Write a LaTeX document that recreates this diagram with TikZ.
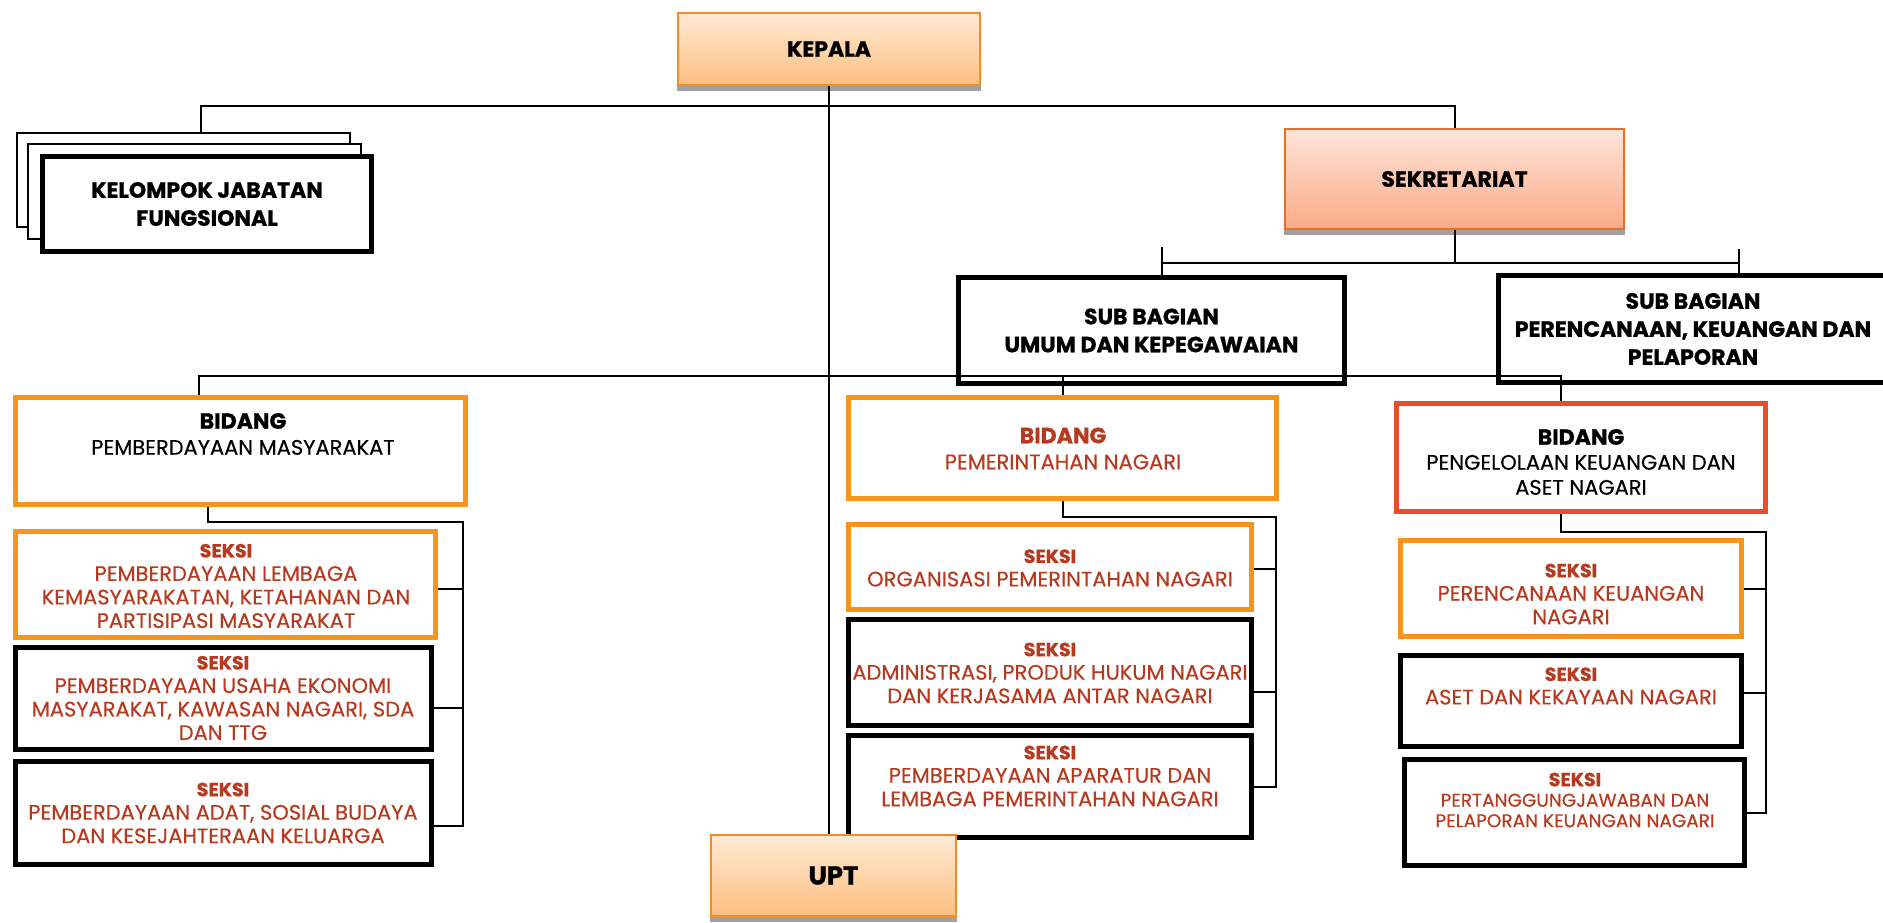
\documentclass[tikz,border=0pt]{standalone}
\usepackage{fontspec}
\setmainfont{Poppins}[UprightFeatures={FakeBold=0.4}, BoldFeatures={FakeBold=1}]
\usetikzlibrary{shadows}
\definecolor{oren}{RGB}{247,148,29}
\definecolor{merah}{RGB}{232,78,42}
\definecolor{teks}{RGB}{183,58,30}
\definecolor{jingga1}{RGB}{255,234,212}
\definecolor{jingga2}{RGB}{253,190,128}
\definecolor{salem1}{RGB}{254,228,218}
\definecolor{salem2}{RGB}{251,170,135}
\definecolor{garisutama}{RGB}{243,139,38}
\definecolor{garissekre}{RGB}{230,110,40}
\definecolor{bayang}{RGB}{160,160,160}
\newcommand{\seksi}{{\fontsize{19}{20}\selectfont\bfseries SEKSI}}

\begin{document}
\begin{tikzpicture}[x=1pt, y=-1pt, line width=2pt,
    hitam/.style={draw=black, line width=5pt},
    oranye/.style={draw=oren, line width=5pt},
    merahbox/.style={draw=merah, line width=5pt},
    tipis/.style={draw=black, line width=2pt, fill=white},
    utama/.style={draw=garisutama, line width=2pt, top color=jingga1, bottom color=jingga2,
        preaction={draw=bayang, fill=bayang, transform canvas={yshift=-5pt}}},
    judul/.style={font=\fontsize{22}{28}\selectfont\bfseries, align=center},
    tulis/.style={inner sep=0, align=center},
    isi/.style={tulis, text=teks, font=\fontsize{21}{23.5}\selectfont}]
    \useasboundingbox (0,0) rectangle (1883,922);

    % kepala dan garis utama
    \node[utama, minimum width=302, minimum height=72, judul] (kepala) at (829,49) {KEPALA};
    \coordinate (bawah) at (829,922);
    \draw (kepala.south) -- (bawah);

    % kelompok jabatan fungsional
    \node[tipis, minimum width=333, minimum height=94] (kjf2) at (183.5,180) {};
    \node[tipis, minimum width=333, minimum height=95] (kjf1) at (194.5,191.5) {};
    \node[hitam, fill=white, minimum width=329, minimum height=95, judul] (kjf) at (207,204) {KELOMPOK JABATAN\\FUNGSIONAL};

    % sekretariat
    \node[utama, draw=garissekre, top color=salem1, bottom color=salem2, minimum width=339, minimum height=100, judul] (sekre) at (1454.5,179) {SEKRETARIAT};
    \coordinate (bar) at (829,106);
    \draw ([xshift=17.5pt]kjf2.north) |- (bar) -| (sekre.north);

    \node[hitam, minimum width=386, minimum height=106, judul] (sbumum) at (1151.5,330.5) {SUB BAGIAN\\UMUM DAN KEPEGAWAIAN};
    \node[hitam, minimum width=389, minimum height=107, judul] (sbren) at (1693,329) {SUB BAGIAN\\PERENCANAAN, KEUANGAN DAN\\PELAPORAN};
    \coordinate (c1) at (1162,263);
    \coordinate (c2) at (1739,263);
    \draw (sekre.south) -- (sekre.south |- c1);
    \draw (c1) -- (c2);
    \draw ([yshift=16pt]c1) -- (c1 |- sbumum.north);
    \draw ([yshift=14pt]c2) -- (c2 |- sbren.north);

    % bidang
    \node[oranye, minimum width=450, minimum height=107] (b1) at (240.5,451) {};
    \node[tulis, font=\fontsize{21}{26}\selectfont] (b1t) at (243,434) {{\fontsize{22}{22}\selectfont\bfseries BIDANG}\\PEMBERDAYAAN MASYARAKAT};
    \node[oranye, minimum width=428, minimum height=101] (b2) at (1062.5,448) {};
    \node[isi, font=\fontsize{21}{26}\selectfont] (b2t) at (1063,448.5) {{\fontsize{22}{22}\selectfont\bfseries BIDANG}\\PEMERINTAHAN NAGARI};
    \node[merahbox, minimum width=369, minimum height=108] (b3) at (1581,457.5) {};
    \node[tulis, font=\fontsize{21}{25}\selectfont] (b3t) at (1581,462) {{\fontsize{22}{22}\selectfont\bfseries BIDANG}\\PENGELOLAAN KEUANGAN DAN\\ASET NAGARI};
    \coordinate (d1) at (199,376);
    \coordinate (d2) at (1561,376);
    \draw (d1 |- b1.north) -- (d1) -- (d2) -- (d2 |- b3.north);
    \draw (b2.north) -- (b2.north |- d1);

    % seksi bidang pemberdayaan masyarakat
    \node[oranye, minimum width=420, minimum height=106] (s1a) at (225.5,584.5) {};
    \node[isi] (s1at) at (226,586) {\seksi\\PEMBERDAYAAN LEMBAGA\\KEMASYARAKATAN, KETAHANAN DAN\\PARTISIPASI MASYARAKAT};
    \node[hitam, minimum width=416, minimum height=102] (s1b) at (223.5,698.5) {};
    \node[isi] (s1bt) at (223,698) {\seksi\\PEMBERDAYAAN USAHA EKONOMI\\MASYARAKAT, KAWASAN NAGARI, SDA\\DAN TTG};
    \node[hitam, minimum width=416, minimum height=103] (s1c) at (223.5,813) {};
    \node[isi] (s1ct) at (223,813) {\seksi\\PEMBERDAYAAN ADAT, SOSIAL BUDAYA\\DAN KESEJAHTERAAN KELUARGA};
    \coordinate (k1) at (208,522);
    \coordinate (k1r) at (463,522);
    \draw (k1 |- b1.south) -- (k1) -- (k1r) |- ([yshift=-13pt]s1c.east);
    \draw ([yshift=-4.5pt]s1a.east) -- ([yshift=-4.5pt]s1a.east -| k1r);
    \draw ([yshift=-9.5pt]s1b.east) -- ([yshift=-9.5pt]s1b.east -| k1r);

    % seksi bidang pemerintahan nagari
    \node[oranye, minimum width=403, minimum height=85] (s2a) at (1050,567) {};
    \node[isi] (s2at) at (1050,568) {\seksi\\ORGANISASI PEMERINTAHAN NAGARI};
    \node[hitam, minimum width=403, minimum height=106] (s2b) at (1050,672.5) {};
    \node[isi] (s2bt) at (1050,673) {\seksi\\ADMINISTRASI, PRODUK HUKUM NAGARI\\DAN KERJASAMA ANTAR NAGARI};
    \node[hitam, minimum width=403, minimum height=102] (s2c) at (1050,786.5) {};
    \node[isi] (s2ct) at (1050,776) {\seksi\\PEMBERDAYAAN APARATUR DAN\\LEMBAGA PEMERINTAHAN NAGARI};
    \coordinate (k2) at (1062.5,517);
    \coordinate (k2r) at (1276,517);
    \draw (b2.south) -- (k2) -- (k2r) |- (s2c.east);
    \draw ([yshift=-2pt]s2a.east) -- ([yshift=-2pt]s2a.east -| k2r);
    \draw ([yshift=-19.5pt]s2b.east) -- ([yshift=-19.5pt]s2b.east -| k2r);

    % seksi bidang pengelolaan keuangan dan aset
    \node[oranye, minimum width=341, minimum height=96] (s3a) at (1571,588.5) {};
    \node[isi] (s3at) at (1571,594) {\seksi\\PERENCANAAN KEUANGAN\\NAGARI};
    \node[hitam, minimum width=341, minimum height=91] (s3b) at (1571,701) {};
    \node[isi] (s3bt) at (1571,686) {\seksi\\ASET DAN KEKAYAAN NAGARI};
    \node[hitam, minimum width=340, minimum height=106] (s3c) at (1574.5,812.5) {};
    \node[isi, font=\fontsize{18.5}{20.5}\selectfont] (s3ct) at (1575,800) {\seksi\\PERTANGGUNGJAWABAN DAN\\PELAPORAN KEUANGAN NAGARI};
    \coordinate (k3) at (1561,532);
    \coordinate (k3r) at (1766,532);
    \draw (k3 |- b3.south) -- (k3) -- (k3r) |- (s3c.east);
    \draw (s3a.east) -- (s3a.east -| k3r);
    \draw ([yshift=8pt]s3b.east) -- ([yshift=8pt]s3b.east -| k3r);

    % upt
    \node[utama, minimum width=245, minimum height=81, judul, font=\fontsize{26}{28}\selectfont\bfseries] (upt) at (833.5,875.5) {UPT};
\end{tikzpicture}
\end{document}
